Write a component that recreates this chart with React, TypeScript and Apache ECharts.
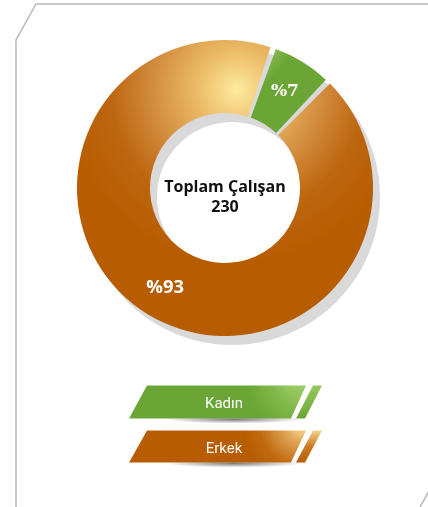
import React, { useEffect, useRef } from "react";
import * as echarts from "echarts";

const categories = ["Kadın", "Erkek"];
const values = [16, 214];
const centerTitle = "Toplam Çalışan";
const totalLabel = "230";

const GREEN = "#6aa535";
const ORANGE = "#b75c00";

export default function App() {
  const ref = useRef<HTMLDivElement>(null);

  useEffect(() => {
    if (!ref.current) return;
    const chart = echarts.init(ref.current, null, { renderer: "svg" });

    const orangeGrad = new echarts.graphic.RadialGradient(
      237,
      90,
      175,
      [
        { offset: 0, color: "#fdea9f" },
        { offset: 0.22, color: "#ecbd68" },
        { offset: 0.48, color: "#d38d3e" },
        { offset: 0.72, color: "#bd6610" },
        { offset: 1, color: ORANGE },
      ],
      true
    );
    const greenGrad = new echarts.graphic.LinearGradient(0, 0, 0.7, 0.7, [
      { offset: 0, color: "#a3d06d" },
      { offset: 0.45, color: GREEN },
      { offset: 1, color: GREEN },
    ]);

    const legendBars = categories.map((name, i) => {
      const top = i === 0 ? 385.5 : 430.5;
      const bot = i === 0 ? 418.5 : 462.5;
      const isGreen = i === 0;
      const fill = new echarts.graphic.RadialGradient(
        302,
        top - 6,
        isGreen ? 55 : 60,
        isGreen
          ? [
              { offset: 0, color: "#a4d26f" },
              { offset: 0.55, color: "#82b84a" },
              { offset: 1, color: GREEN },
            ]
          : [
              { offset: 0, color: "#fbe29c" },
              { offset: 0.3, color: "#dfa455" },
              { offset: 0.7, color: "#c06a10" },
              { offset: 1, color: ORANGE },
            ],
        true
      );
      const stripeFill = new echarts.graphic.LinearGradient(0, 0, 0, 1, isGreen
        ? [
            { offset: 0, color: "#96c85e" },
            { offset: 1, color: GREEN },
          ]
        : [
            { offset: 0, color: "#f4d48a" },
            { offset: 0.5, color: "#c97a25" },
            { offset: 1, color: ORANGE },
          ]);
      const shadow = new echarts.graphic.RadialGradient(
        0.5,
        0.5,
        0.5,
        [
          { offset: 0, color: "rgba(0,0,0,0.5)" },
          { offset: 1, color: "rgba(0,0,0,0)" },
        ]
      );
      return [
        {
          type: "ellipse",
          shape: { cx: 234, cy: bot + 1, rx: 68, ry: 4 },
          style: { fill: shadow },
          z: 1,
        },
        {
          type: "polygon",
          shape: {
            points: [
              [147, top],
              [306, top],
              [291, bot],
              [129, bot],
            ],
          },
          style: { fill },
          z: 2,
        },
        {
          type: "polygon",
          shape: {
            points: [
              [313, top],
              [322, top],
              [305, bot],
              [296, bot],
            ],
          },
          style: { fill: stripeFill },
          z: 2,
        },
        {
          type: "text",
          x: 224,
          y: (top + bot) / 2 + 1,
          style: {
            text: name,
            fill: "#ffffff",
            font: "400 15px Roboto, sans-serif",
            align: "center",
            verticalAlign: "middle",
          },
          z: 3,
        },
      ];
    });

    chart.setOption({
      animation: false,
      graphic: [
        {
          type: "polyline",
          shape: {
            points: [
              [430, 4],
              [36, 4],
              [16, 40],
              [16, 510],
            ],
          },
          style: { stroke: "#b8b8b8", lineWidth: 1.5, fill: "none" },
          z: 0,
        },
        {
          type: "line",
          shape: { x1: 430, y1: 489, x2: 419, y2: 509 },
          style: { stroke: "#b8b8b8", lineWidth: 1.5 },
          z: 0,
        },
        {
          type: "text",
          x: 225,
          y: 186,
          style: {
            text: centerTitle,
            fill: "#111111",
            font: "700 16px 'Open Sans', sans-serif",
            align: "center",
            verticalAlign: "middle",
          },
          z: 10,
        },
        {
          type: "text",
          x: 225,
          y: 206,
          style: {
            text: totalLabel,
            fill: "#111111",
            font: "700 16px 'Open Sans', sans-serif",
            align: "center",
            verticalAlign: "middle",
          },
          z: 10,
        },
        ...legendBars.flat(),
      ],
      series: [
        {
          type: "pie",
          silent: true,
          center: [232, 197],
          radius: [75, 148],
          startAngle: 90,
          label: { show: false },
          labelLine: { show: false },
          data: [{ value: 1, name: "shadow", itemStyle: { color: "#d9d9d9" } }],
          z: 1,
        },
        {
          type: "pie",
          silent: true,
          center: [225, 188],
          radius: [75, 148],
          startAngle: 71,
          clockwise: true,
          padAngle: 2.2,
          z: 2,
          label: {
            show: true,
            position: "inside",
            color: "#ffffff",
            fontWeight: "bold",
            fontSize: 18.5,
            fontFamily: "'Open Sans', sans-serif",
            formatter: (p: any) => "%" + Math.round(p.percent),
          },
          labelLine: { show: false },
          data: categories.map((name, i) => ({
            name,
            value: values[i],
            itemStyle: { color: i === 0 ? greenGrad : orangeGrad },
            label:
              i === 0
                ? { fontFamily: "'DejaVu Serif', serif", fontSize: 17 }
                : {},
          })),
        },
      ],
    });

    return () => chart.dispose();
  }, []);

  return (
    <div
      ref={ref}
      style={{ position: "fixed", left: 0, top: 0, width: 428, height: 507 }}
    />
  );
}
